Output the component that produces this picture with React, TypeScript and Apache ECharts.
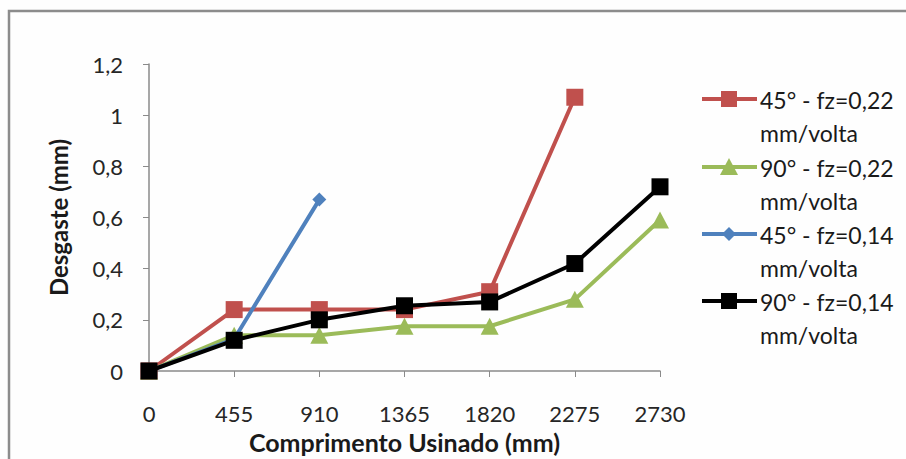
import React, { useEffect, useRef } from "react";
import * as echarts from "echarts";

// Comprimento usinado (mm) e desgaste medido (mm) por condição de corte
const comprimentos = [0, 455, 910, 1365, 1820, 2275, 2730];
const desgaste45_022 = [0, 0.24, 0.24, 0.24, 0.31, 1.07];
const desgaste90_022 = [0, 0.14, 0.14, 0.175, 0.175, 0.28, 0.59];
const desgaste45_014 = [0, 0.125, 0.67];
const desgaste90_014 = [0, 0.12, 0.2, 0.255, 0.27, 0.42, 0.72];

const nomes = [
  "45° - fz=0,22 mm/volta",
  "90° - fz=0,22 mm/volta",
  "45° - fz=0,14 mm/volta",
  "90° - fz=0,14 mm/volta",
];
const cores = ["#C0504D", "#9BBB59", "#4F81BD", "#000000"];
const simbolos = ["rect", "triangle", "diamond", "rect"];

const FONT = "Lato";

const pares = (ys: number[]) => ys.map((y, i) => [comprimentos[i], y]);

const tamanhoSimbolo = (s: string): number | number[] =>
  s === "triangle" ? [18, 17] : s === "diamond" ? 14 : 17;

export default function App() {
  const ref = useRef<HTMLDivElement>(null);

  useEffect(() => {
    if (!ref.current) return;
    const chart = echarts.init(ref.current, undefined, { renderer: "svg" });
    const dados = [desgaste45_022, desgaste90_022, desgaste45_014, desgaste90_014];

    // legend drawn as graphic so the marker lines up with the first text line
    const legenda: any[] = [];
    const topo = [99, 167, 234, 301];
    const cx = 729;
    nomes.forEach((nome, i) => {
      const y = topo[i];
      const cor = cores[i];
      legenda.push({
        type: "line",
        shape: { x1: 702, y1: y, x2: 757, y2: y },
        style: { stroke: cor, lineWidth: 4 },
      });
      if (simbolos[i] === "rect") {
        legenda.push({
          type: "rect",
          shape: { x: cx - 8, y: y - 8, width: 16, height: 16 },
          style: { fill: cor },
        });
      } else if (simbolos[i] === "triangle") {
        legenda.push({
          type: "polygon",
          shape: { points: [[cx, y - 9], [cx + 9, y + 8], [cx - 9, y + 8]] },
          style: { fill: cor },
        });
      } else {
        legenda.push({
          type: "polygon",
          shape: { points: [[cx, y - 7], [cx + 7, y], [cx, y + 7], [cx - 7, y]] },
          style: { fill: cor },
        });
      }
      const [a, b] = nome.split(" mm/");
      legenda.push({
        type: "text",
        x: 760,
        y: y - 16,
        style: {
          text: a + "\nmm/" + b,
          font: `23px ${FONT}`,
          fill: "#1a1a1a",
          verticalAlign: "top",
          lineHeight: 33,
        },
      });
    });

    chart.setOption({
      animation: false,
      backgroundColor: "#FEFEFE",
      textStyle: { fontFamily: FONT },
      grid: { left: 149, right: 246, top: 64, bottom: 84, containLabel: false },
      xAxis: {
        type: "value",
        min: 0,
        max: 2730,
        interval: 455,
        name: "Comprimento Usinado (mm)",
        nameLocation: "middle",
        nameGap: 58,
        nameTextStyle: { fontSize: 25, fontWeight: "bold", color: "#1a1a1a", fontFamily: FONT },
        axisLine: { lineStyle: { color: "#8a8a8a", width: 1.5 } },
        axisTick: { show: true, length: 6, lineStyle: { color: "#8a8a8a" } },
        axisLabel: {
          fontSize: 22,
          color: "#262626",
          margin: 31,
          fontFamily: FONT,
          formatter: (v: number) => String(v),
        },
        splitLine: { show: false },
      },
      yAxis: {
        type: "value",
        min: 0,
        max: 1.2,
        interval: 0.2,
        name: "Desgaste (mm)",
        nameLocation: "middle",
        nameGap: 79,
        nameRotate: 90,
        nameTextStyle: { fontSize: 24, fontWeight: "bold", color: "#1a1a1a", fontFamily: FONT },
        axisLine: { show: true, lineStyle: { color: "#8a8a8a", width: 1.5 } },
        axisTick: { show: true, length: 6, lineStyle: { color: "#8a8a8a" } },
        axisLabel: {
          fontSize: 22,
          color: "#262626",
          margin: 26,
          fontFamily: FONT,
          formatter: (v: number) => String(Math.round(v * 10) / 10).replace(".", ","),
        },
        splitLine: { show: false },
      },
      series: dados.map((d, i) => ({
        name: nomes[i],
        type: "line",
        data: pares(d),
        symbol: simbolos[i],
        symbolSize: tamanhoSimbolo(simbolos[i]),
        showAllSymbol: true,
        lineStyle: { color: cores[i], width: 4 },
        itemStyle: { color: cores[i] },
        z: 2 + i,
      })),
      graphic: [
        {
          type: "rect",
          shape: { x: 9, y: 11, width: 930, height: 480 },
          style: { fill: "none", stroke: "#8c8c8c", lineWidth: 2.5 },
          z: -1,
        },
        ...legenda,
      ],
    });

    return () => chart.dispose();
  }, []);

  return (
    <div
      ref={ref}
      style={{ position: "absolute", left: 0, top: 0, width: 906, height: 459 }}
    />
  );
}
